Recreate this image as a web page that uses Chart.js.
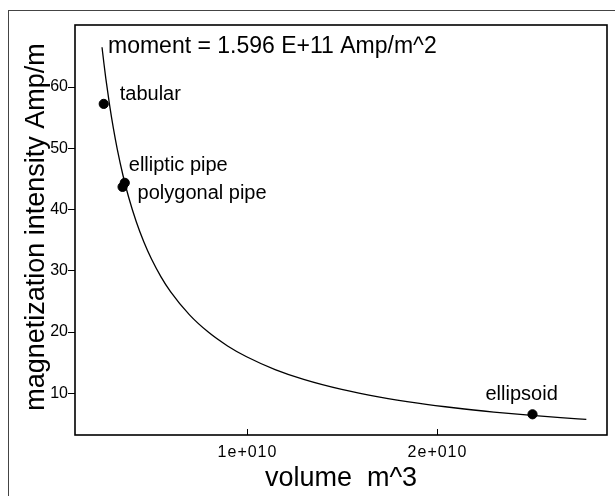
<!DOCTYPE html>
<html>
<head>
<meta charset="utf-8">
<script src="https://cdn.jsdelivr.net/npm/chart.js@4/dist/chart.umd.min.js"></script>
<style>
  html, body { margin: 0; padding: 0; background: #fff; }
  canvas { display: block; }
</style>
</head>
<body>
<canvas id="c" width="615" height="496"></canvas>
<script>
// Dipole moment shared by all model bodies (Amp·m^2)
const moment = 1.596e11;

// Volumes (m^3) at which the constant-moment curve is traced
const curveVolumes = [2.4e9, 2.5e9, 2.6e9, 2.8e9, 3.0e9, 3.2e9, 3.5e9, 3.8e9, 4.2e9, 4.6e9,
  5.0e9, 5.5e9, 6.0e9, 7.0e9, 8.0e9, 9.0e9, 1.0e10, 1.15e10, 1.3e10, 1.5e10, 1.7e10,
  1.9e10, 2.1e10, 2.3e10, 2.5e10, 2.65e10, 2.786e10];

// Model bodies: name, volume, magnetization intensity
const bodyNames = ["tabular", "elliptic pipe", "polygonal pipe", "ellipsoid"];
const bodyVolumes = [2.49e9, 3.595e9, 3.48e9, 2.503e10];
const bodyIntensities = [57.25, 44.36, 43.7, 6.57];

// Axis ticks
const xTickValues = [1e10, 2e10];
const xTickLabels = ["1e+010", "2e+010"];
const yTickValues = [10, 20, 30, 40, 50, 60];

// Label placement relative to each body's marker (pixels)
const labelOffsets = [[16, -9], [4, -17], [15, 7], [-47, -20]];

const curvePoints = curveVolumes.map(v => ({ x: v, y: moment / v }));
const bodyPoints = bodyVolumes.map((v, i) => ({ x: v, y: bodyIntensities[i] }));

const FONT = '"Liberation Sans", Arial, sans-serif';

const decorations = {
  id: 'decorations',
  beforeDraw(chart) {
    const ctx = chart.ctx;
    ctx.save();
    ctx.fillStyle = '#fff';
    ctx.fillRect(0, 0, chart.width, chart.height);
    ctx.strokeStyle = '#444';
    ctx.lineWidth = 1;
    ctx.strokeRect(8.5, 10.5, 700, 600);
    ctx.restore();
  },
  afterDraw(chart) {
    const ctx = chart.ctx;
    const a = chart.chartArea;
    const xs = chart.scales.x;
    ctx.save();
    // plot frame
    ctx.strokeStyle = '#000';
    ctx.lineWidth = 1.6;
    ctx.strokeRect(a.left, a.top, a.right - a.left, a.bottom - a.top);
    // inward x ticks and their labels
    ctx.lineWidth = 1;
    ctx.fillStyle = '#000';
    ctx.font = '16px ' + FONT;
    ctx.textAlign = 'center';
    ctx.textBaseline = 'alphabetic';
    ctx.letterSpacing = '1px';
    xTickValues.forEach((v, i) => {
      const px = Math.round(xs.getPixelForValue(v)) + 0.5;
      ctx.beginPath();
      ctx.moveTo(px, a.bottom);
      ctx.lineTo(px, a.bottom - 6);
      ctx.stroke();
      ctx.fillText(xTickLabels[i], px, 457);
    });
    ctx.letterSpacing = '0px';
    // body labels
    ctx.font = '20px ' + FONT;
    ctx.textAlign = 'left';
    ctx.textBaseline = 'middle';
    const meta = chart.getDatasetMeta(1);
    bodyNames.forEach((name, i) => {
      const el = meta.data[i];
      ctx.fillText(name, el.x + labelOffsets[i][0], el.y + labelOffsets[i][1]);
    });
    // moment annotation
    ctx.font = '23px ' + FONT;
    ctx.textBaseline = 'alphabetic';
    ctx.fillText('moment = 1.596 E+11 Amp/m^2', 108, 53);
    // axis titles
    ctx.font = '27px ' + FONT;
    ctx.textAlign = 'center';
    ctx.fillText('volume  m^3', (a.left + a.right) / 2, 486);
    ctx.translate(37, (a.top + a.bottom) / 2 - 3);
    ctx.rotate(-Math.PI / 2);
    ctx.textBaseline = 'middle';
    ctx.fillText('magnetization intensity Amp/m', 0, 0);
    ctx.restore();
  }
};

new Chart(document.getElementById('c'), {
  type: 'scatter',
  data: {
    datasets: [
      {
        data: curvePoints,
        showLine: true,
        borderColor: '#000',
        borderWidth: 1.3,
        pointRadius: 0,
        cubicInterpolationMode: 'monotone',
        fill: false
      },
      {
        data: bodyPoints,
        backgroundColor: '#000',
        borderColor: '#000',
        pointRadius: 4.6,
        showLine: false
      }
    ]
  },
  options: {
    responsive: false,
    animation: false,
    devicePixelRatio: 1,
    layout: { padding: { left: 0, top: 25, right: 8, bottom: 0 } },
    plugins: { legend: { display: false }, tooltip: { enabled: false } },
    scales: {
      x: {
        type: 'linear',
        min: 0.979e9,
        max: 2.8947e10,
        grid: { display: false },
        border: { display: false },
        ticks: { display: false },
        afterFit(s) { s.height = 61; }
      },
      y: {
        type: 'linear',
        min: 3.19,
        max: 70.13,
        afterBuildTicks(s) { s.ticks = yTickValues.map(v => ({ value: v })); },
        grid: { drawOnChartArea: false, drawTicks: true, tickLength: 7, color: '#000', lineWidth: 1 },
        border: { display: false },
        ticks: {
          color: '#000',
          padding: 0,
          font: { family: FONT, size: 16 },
          callback: v => String(v)
        },
        afterFit(s) { s.width = 75; }
      }
    }
  },
  plugins: [decorations]
});
</script>
</body>
</html>
